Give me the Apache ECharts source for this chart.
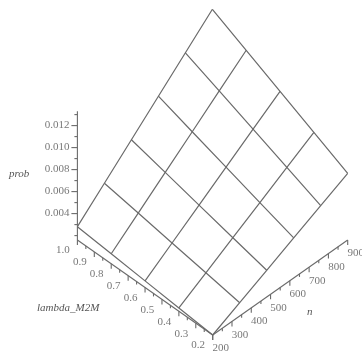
<!DOCTYPE html>
<html>
<head>
<meta charset="utf-8">
<script src="https://cdn.jsdelivr.net/npm/echarts@6/dist/echarts.min.js"></script>
<style>html,body{margin:0;padding:0;background:#fff}#c{width:362px;height:352px}</style>
</head>
<body>
<div id="c"></div>
<script>
// ---- data ----
const nValues = [200, 340, 480, 620, 760, 900];
const lambdaValues = [0.2, 0.4, 0.6, 0.8, 1.0];
// prob[lambda row][n column]
const prob_l02 = [0.00160, 0.00281, 0.00403, 0.00524, 0.00645, 0.00766];
const prob_l04 = [0.00190, 0.00337, 0.00483, 0.00630, 0.00777, 0.00923];
const prob_l06 = [0.00220, 0.00392, 0.00564, 0.00736, 0.00908, 0.01080];
const prob_l08 = [0.00251, 0.00448, 0.00645, 0.00842, 0.01040, 0.01237];
const prob_l10 = [0.00281, 0.00503, 0.00726, 0.00949, 0.01171, 0.01394];
const probRows = [prob_l02, prob_l04, prob_l06, prob_l08, prob_l10];

const nRange = [200, 900];
const lambdaRange = [0.2, 1.0];
const probRange = [0.0016, 0.0133];

const zTickLabels = ['0.004', '0.006', '0.008', '0.010', '0.012'];
const zMinorTicks = [0.002, 0.003, 0.005, 0.007, 0.009, 0.011, 0.013];
const lambdaTickLabels = ['0.2', '0.3', '0.4', '0.5', '0.6', '0.7', '0.8', '0.9', '1.0'];
const lambdaMinorTicks = [0.25, 0.35, 0.45, 0.55, 0.65, 0.75, 0.85, 0.95];
const nTickLabels = ['200', '300', '400', '500', '600', '700', '800', '900'];
const nMinorTicks = [250, 350, 450, 550, 650, 750, 850];

// ---- projection (orthographic view) ----
const N_DX = 135, N_DY = 95, L_DX = 135.3, L_DY = 95, Z_SCALE = 11000;
function proj(n, lam, z) {
  const a = (n - nRange[0]) / (nRange[1] - nRange[0]);
  const b = (lam - lambdaRange[0]) / (lambdaRange[1] - lambdaRange[0]);
  return [a * N_DX - b * L_DX, a * N_DY + b * L_DY + (z - probRange[0]) * Z_SCALE];
}

const LINE = '#6a6a6a';
const TXT = '#555555';
const FONT = 'Liberation Serif';

// surface wireframe
const wire = [];
lambdaValues.forEach((lam, j) => {
  wire.push({ coords: nValues.map((n, i) => proj(n, lam, probRows[j][i])) });
});
nValues.forEach((n, i) => {
  wire.push({ coords: lambdaValues.map((lam, j) => proj(n, lam, probRows[j][i])) });
});

// axes
const zmin = probRange[0];
const axisLines = [
  { coords: [proj(nRange[0], lambdaRange[1], zmin), proj(nRange[0], lambdaRange[1], probRange[1])] },
  { coords: [proj(nRange[0], lambdaRange[0], zmin), proj(nRange[0], lambdaRange[1], zmin)] },
  { coords: [proj(nRange[0], lambdaRange[0], zmin), proj(nRange[1], lambdaRange[0], zmin)] }
];
function seg(p, dx, dy) { return { coords: [p, [p[0] + dx, p[1] + dy]] }; }
const MAJ = 5, MIN = 3;
zTickLabels.forEach(t => axisLines.push(seg(proj(nRange[0], lambdaRange[1], +t), -6, 0)));
zMinorTicks.forEach(t => axisLines.push(seg(proj(nRange[0], lambdaRange[1], t), -3, 0)));
lambdaTickLabels.forEach(t => axisLines.push(seg(proj(nRange[0], +t, zmin), 0, -MAJ)));
lambdaMinorTicks.forEach(t => axisLines.push(seg(proj(nRange[0], t, zmin), 0, -MIN)));
nTickLabels.forEach(t => axisLines.push(seg(proj(+t, lambdaRange[0], zmin), 0, -MAJ)));
nMinorTicks.forEach(t => axisLines.push(seg(proj(t, lambdaRange[0], zmin), 0, -MIN)));

function labelSeries(points, texts, offset, align) {
  return {
    type: 'scatter', silent: true, symbolSize: 1,
    itemStyle: { color: 'rgba(0,0,0,0)' },
    data: points.map((p, k) => ({ value: p, name: texts[k] })),
    label: {
      show: true, position: 'inside', offset: offset, align: align,
      verticalAlign: 'middle', formatter: p => p.name,
      fontFamily: FONT, fontSize: 11, color: TXT
    },
    z: 5
  };
}

const chart = echarts.init(document.getElementById('c'), null, { renderer: 'canvas' });
chart.setOption({
  animation: false,
  backgroundColor: '#ffffff',
  grid: { left: 0, right: 0, top: 0, bottom: 0 },
  xAxis: { type: 'value', min: -212.7, max: 149.3, show: false },
  yAxis: { type: 'value', min: -17, max: 335, show: false },
  series: [
    { type: 'lines', coordinateSystem: 'cartesian2d', polyline: true, silent: true,
      lineStyle: { color: LINE, width: 1.2, opacity: 1 }, data: wire, z: 3 },
    { type: 'lines', coordinateSystem: 'cartesian2d', polyline: true, silent: true,
      lineStyle: { color: LINE, width: 1.1, opacity: 1 }, data: axisLines, z: 2 },
    labelSeries(zTickLabels.map(t => proj(nRange[0], lambdaRange[1], +t)), zTickLabels, [-8, 0], 'right'),
    labelSeries(lambdaTickLabels.map(t => proj(nRange[0], +t, zmin)), lambdaTickLabels, [-14.5, 10.5], 'center'),
    labelSeries(nTickLabels.map(t => proj(+t, lambdaRange[0], zmin)), nTickLabels, [8, 13.5], 'center')
  ],
  graphic: [
    { type: 'text', left: 9, top: 169, style: { text: 'prob', font: 'italic 11px "Liberation Serif"', fill: TXT } },
    { type: 'text', left: 37, top: 303, style: { text: 'lambda_M2M', font: 'italic 11px "Liberation Serif"', fill: TXT } },
    { type: 'text', left: 307, top: 307, style: { text: 'n', font: 'italic 11px "Liberation Serif"', fill: TXT } }
  ]
});
</script>
</body>
</html>
